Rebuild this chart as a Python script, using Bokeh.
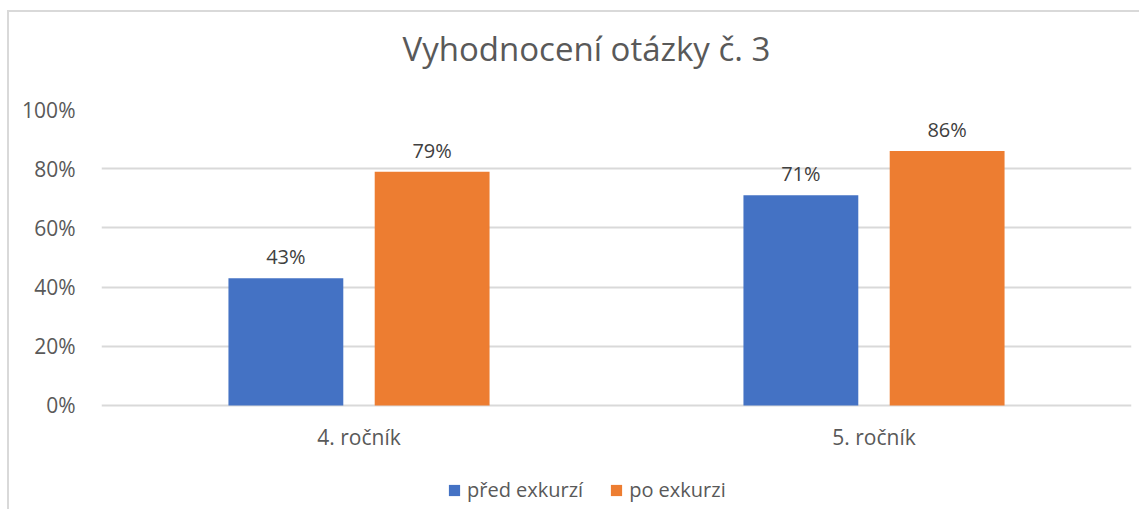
from bokeh.plotting import figure
from bokeh.models import Range1d, FixedTicker, NumeralTickFormatter, Legend, LegendItem, ColumnDataSource, Title
from bokeh.core.properties import value
from bokeh.embed import file_html
from bokeh.resources import INLINE

categories = ["4. ročník", "5. ročník"]
series_names = ["před exkurzí", "po exkurzi"]
pred = [0.43, 0.71]
po = [0.79, 0.86]
colors = ["#4472C4", "#ED7D31"]
title_text = "Vyhodnocení otázky č. 3"

FONT = "Open Sans"

p = figure(frame_width=1030, frame_height=400, output_backend="svg", toolbar_location=None,
           x_range=Range1d(0, len(categories)), y_range=Range1d(-0.3514, 1),
           x_axis_location=None,
           min_border_left=92, min_border_right=8, min_border_top=97, min_border_bottom=0,
           outline_line_color=None, background_fill_color="white", border_fill_color="white")
p.styles = {"border-left": "2px solid #d9d9d9", "border-top": "2px solid #d9d9d9",
            "margin-left": "7px", "margin-top": "10px"}

# spacer between title and frame
p.add_layout(Title(text=" ", text_font_size="1px", standoff=36), "above")

p.title.text = title_text
p.title.align = "left"
p.title.text_font = FONT
p.title.text_font_size = "33px"
p.title.text_font_style = "normal"
p.title.text_color = "#595959"
p.title.standoff = 0
p.title.offset = 301

centers = [i + 0.5 for i in range(len(categories))]
off = 0.142
bw = 0.223
renderers = []
for vals, col, sgn in [(pred, colors[0], -1), (po, colors[1], 1)]:
    xs = [c + sgn * off for c in centers]
    src = ColumnDataSource(dict(x=xs, top=vals, lab=[f"{round(v*100)}%" for v in vals]))
    r = p.vbar(x="x", top="top", width=bw, bottom=0, source=src, fill_color=col, line_color=None)
    renderers.append(r)
    p.text(x="x", y="top", text="lab", source=src, text_align="center", text_baseline="bottom",
           y_offset=-8, text_font=value(FONT), text_font_size="20px", text_color="#404040")

# category labels below the zero line
cat_src = ColumnDataSource(dict(x=centers, y=[0] * len(categories), t=categories))
p.text(x="x", y="y", text="t", source=cat_src, text_align="center", text_baseline="middle",
       y_offset=32, text_font=value(FONT), text_font_size="21px", text_color="#595959")

# y axis
p.yaxis.ticker = FixedTicker(ticks=[0, 0.2, 0.4, 0.6, 0.8, 1.0])
p.yaxis.formatter = NumeralTickFormatter(format="0%")
p.yaxis.axis_line_color = None
p.yaxis.major_tick_line_color = None
p.yaxis.minor_tick_line_color = None
p.yaxis.major_label_text_font = FONT
p.yaxis.major_label_text_font_size = "21px"
p.yaxis.major_label_text_color = "#595959"
p.yaxis.major_label_standoff = 20

for g in p.grid:
    if g.dimension == 0:
        g.grid_line_color = None
        g.visible = False
p.ygrid.grid_line_color = "#d9d9d9"
p.ygrid.grid_line_width = 2
p.ygrid.ticker = FixedTicker(ticks=[0, 0.2, 0.4, 0.6, 0.8, 1.0])

legend = Legend(items=[LegendItem(label=n, renderers=[r]) for n, r in zip(series_names, renderers)],
                orientation="horizontal", location=(346, 6),
                label_text_font=FONT, label_text_font_size="20px", label_text_color="#595959",
                glyph_width=14, glyph_height=14, label_standoff=6, spacing=26,
                border_line_color=None, background_fill_alpha=0, padding=0, margin=0)
p.add_layout(legend, "center")

open("out.html", "w").write(file_html(p, INLINE))
